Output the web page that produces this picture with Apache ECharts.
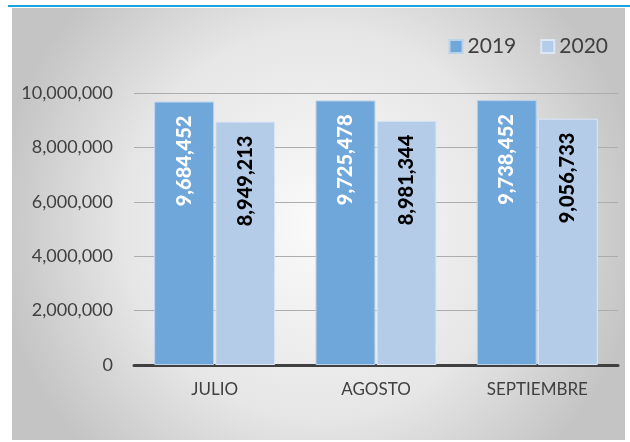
<!DOCTYPE html>
<html>
<head>
<meta charset="utf-8">
<script src="https://cdn.jsdelivr.net/npm/echarts@6/dist/echarts.min.js"></script>
<style>
  html, body { margin: 0; padding: 0; background: #fff; }
  #chart { width: 630px; height: 442px; }
</style>
</head>
<body>
<div id="chart"></div>
<script>
const months = ['JULIO', 'AGOSTO', 'SEPTIEMBRE']
const values2019 = [9684452, 9725478, 9738452]
const values2020 = [8949213, 8981344, 9056733]
const yTicks = [0, 2000000, 4000000, 6000000, 8000000, 10000000]

const chart = echarts.init(document.getElementById('chart'))
const fmt = v => echarts.format.addCommas(v)
const font = 'Lato, "Open Sans", sans-serif'

const labelStyle = color => ({
  show: true,
  position: 'insideTop',
  rotate: 90,
  align: 'right',
  verticalAlign: 'middle',
  distance: 14,
  color: color,
  fontFamily: font,
  fontWeight: 900,
  fontSize: 20,
  formatter: p => fmt(p.value)
})

chart.setOption({
  animation: false,
  graphic: [
    {
      type: 'rect',
      z: -10,
      shape: { x: 12, y: 8, width: 613, height: 432 },
      style: {
        fill: new echarts.graphic.RadialGradient(0.5, 0.5, 0.75, [
          { offset: 0, color: '#fafafa' },
          { offset: 0.6, color: '#e6e6e6' },
          { offset: 1, color: '#c4c4c4' }
        ])
      }
    },
    {
      type: 'line',
      z: -5,
      shape: { x1: 8, y1: 6, x2: 630, y2: 6 },
      style: { stroke: '#19a3dc', lineWidth: 2 }
    }
  ],
  legend: {
    right: 17,
    top: 31,
    itemWidth: 13,
    itemHeight: 13,
    itemGap: 24,
    icon: 'rect',
    textStyle: { fontFamily: font, fontSize: 21, color: '#404040' },
    data: ['2019', '2020']
  },
  grid: { left: 134, right: 12, top: 93, bottom: 77 },
  xAxis: {
    type: 'category',
    data: months,
    axisLine: { lineStyle: { color: '#404040', width: 3 } },
    axisTick: { show: false },
    axisLabel: { fontFamily: font, fontSize: 17, color: '#404040', margin: 16 }
  },
  yAxis: {
    type: 'value',
    min: yTicks[0],
    max: yTicks[yTicks.length - 1],
    interval: yTicks[1] - yTicks[0],
    axisLine: { show: false },
    axisTick: { show: false },
    splitLine: { lineStyle: { color: '#adadad', width: 1 } },
    axisLabel: { fontFamily: font, fontSize: 18, color: '#404040', margin: 21, formatter: fmt }
  },
  series: [
    {
      name: '2019',
      type: 'bar',
      data: values2019,
      barGap: '2%',
      barCategoryGap: '25%',
      itemStyle: { color: '#70a7da', borderColor: '#b9d2ec', borderWidth: 1 },
      label: labelStyle('#ffffff')
    },
    {
      name: '2020',
      type: 'bar',
      data: values2020,
      itemStyle: { color: '#b5cce9', borderColor: '#dce7f5', borderWidth: 1 },
      label: labelStyle('#000000')
    }
  ]
})
</script>
</body>
</html>
